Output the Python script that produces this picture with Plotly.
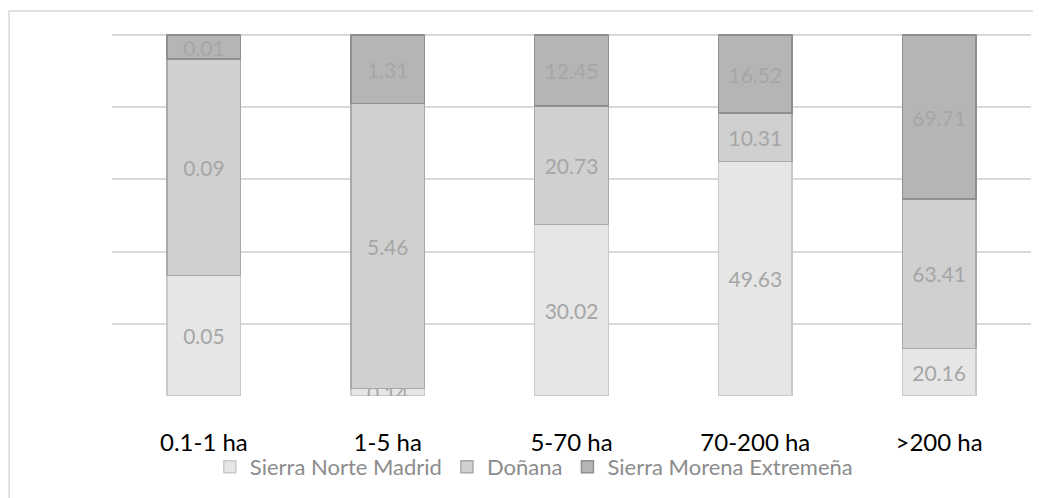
import plotly.graph_objects as go

categories = ["0.1-1 ha", "1-5 ha", "5-70 ha", "70-200 ha", ">200 ha"]
sierra_norte = [0.05, 0.14, 30.02, 49.63, 20.16]
donana = [0.09, 5.46, 20.73, 10.31, 63.41]
sierra_morena = [0.01, 1.31, 12.45, 16.52, 69.71]

series = [
    ("Sierra Norte Madrid", sierra_norte, "#e6e6e6", "#c9c9c9"),
    ("Doñana", donana, "#d0d0d0", "#a8a8a8"),
    ("Sierra Morena Extremeña", sierra_morena, "#b5b5b5", "#8f8f8f"),
]

FONT = "Lato, Open Sans, sans-serif"

fig = go.Figure()
for name, vals, fill, edge in series:
    fig.add_trace(go.Bar(
        x=categories, y=vals, name=name,
        marker=dict(color=fill, line=dict(color=edge, width=1.5)),
        text=[f"{v:.2f}" for v in vals],
        textposition="inside", insidetextanchor="middle",
        constraintext="none",
        textfont=dict(family=FONT, size=21, color="#a6a6a6"),
        hoverinfo="skip",
    ))

fig.update_layout(
    barmode="stack", barnorm="percent", bargap=0.6,
    width=1041, height=498,
    margin=dict(l=104, r=18, t=26, b=110),
    paper_bgcolor="white", plot_bgcolor="white",
    font=dict(family=FONT),
    showlegend=True,
    legend=dict(orientation="h", x=0.459, xanchor="center", y=-0.196, yanchor="middle",
                font=dict(family=FONT, size=22, color="#8c8c8c"),
                bgcolor="rgba(0,0,0,0)",
                itemwidth=30, traceorder="normal"),
    shapes=[dict(type="rect", xref="paper", yref="paper",
                 x0=-0.112, x1=1.3, y0=-0.6, y1=1.0635,
                 line=dict(color="#d9d9d9", width=1.5), fillcolor="rgba(0,0,0,0)",
                 layer="below")],
)
fig.update_xaxes(showgrid=False, showline=False, ticks="outside", ticklen=25,
                 tickcolor="rgba(0,0,0,0)",
                 tickfont=dict(family=FONT, size=24, color="#000000"))
fig.update_yaxes(range=[0, 100.3], tickvals=[0, 20, 40, 60, 80, 100], showgrid=True,
                 gridcolor="#d9d9d9", gridwidth=1.5, showticklabels=False,
                 zeroline=False, showline=False)

fig.write_html("out.html")
